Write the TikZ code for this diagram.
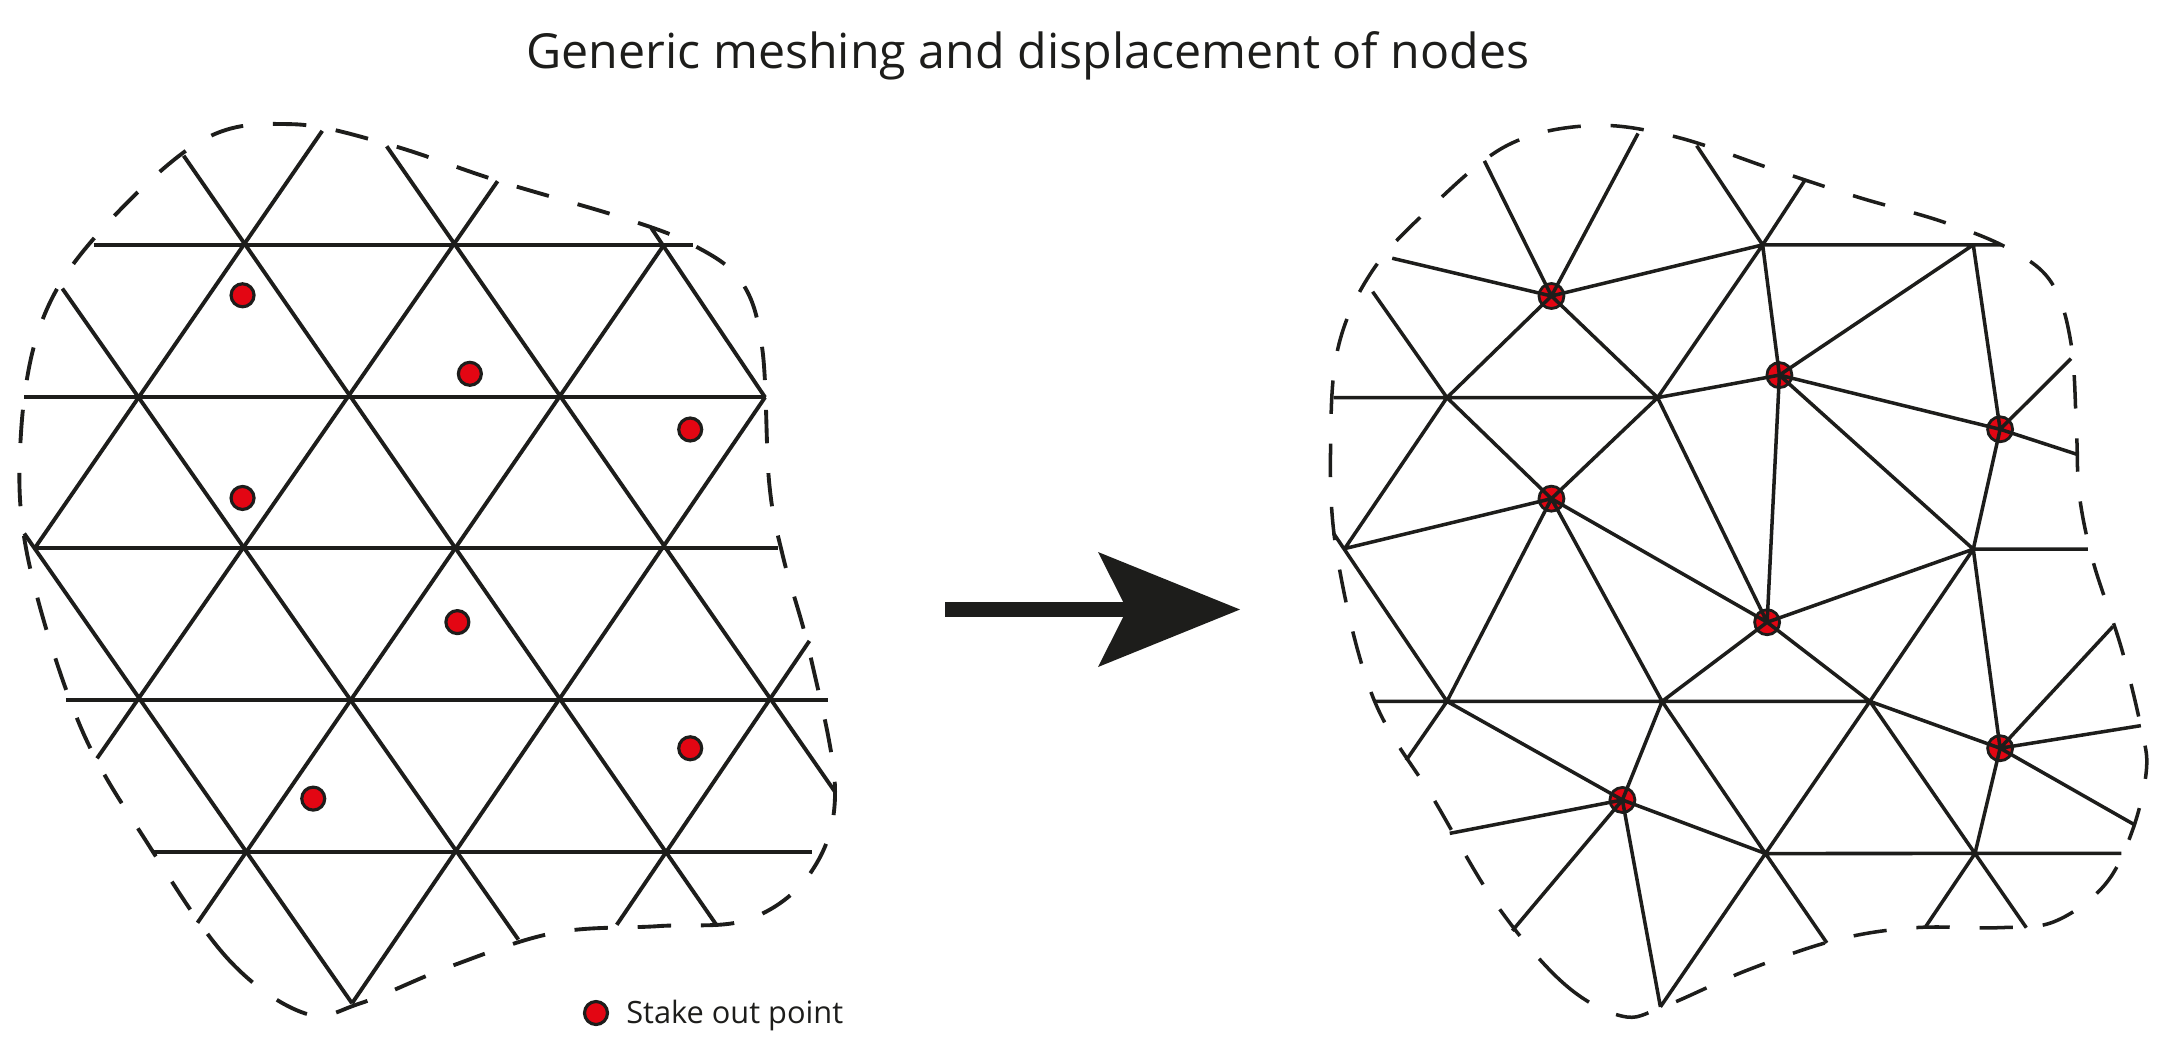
\documentclass[tikz,border=0pt]{standalone}
\usepackage{fontspec}
\setmainfont{Open Sans}
\definecolor{ink}{HTML}{1D1D1B}
\definecolor{stake}{HTML}{E30613}
\begin{document}
\begin{tikzpicture}[x=0.02cm,y=-0.02cm,
  mesh/.style={draw=ink,line width=2.2pt},
  bound/.style={draw=ink,line width=2.2pt,dash pattern=on 19pt off 17pt},
  dot/.style={circle,fill=stake,draw=ink,line width=1.8pt,minimum size=0.46cm,inner sep=0pt},
  sdot/.style={circle,fill=stake,draw=ink,line width=1.6pt,minimum size=0.5cm,inner sep=0pt}]
\useasboundingbox (0,0) rectangle (2176,1052);
\node[font=\fontsize{27.5}{33}\selectfont,text=ink] (title) at (1028,56) {Generic meshing and displacement of nodes};
% left mesh
\begin{scope}[xscale=0.693,yscale=0.6711]
\draw[mesh] (135,365)--(1000,365) (35,592)--(1105,592) (50,817)--(1122,817) (95,1043)--(1195,1043) (220,1270)--(1172,1270);
\draw[mesh] (265,232)--(1035,1380) (558,218)--(1205,1180) (940,340)--(1104,592) (90,430)--(748,1400) (35,795)--(508,1495);
\draw[mesh] (465,195)--(50,817) (718,270)--(140,1130) (958,365)--(285,1375) (1104,592)--(508,1495) (1168,955)--(890,1378);
\draw[bound] plot[smooth cycle,tension=0.6] coordinates {(440,1510) (330,1430) (215,1260) (115,1080) (40,830) (30,650) (60,480) (140,350) (290,210) (420,185) (560,215) (720,270) (900,325) (1000,365) (1070,420) (1100,520) (1110,720) (1130,830) (1170,980) (1205,1180) (1170,1300) (1080,1370) (950,1380) (800,1390) (650,1440) (520,1495)};
\foreach \p [count=\i] in {(350,440),(678,557),(996,640),(350,742),(660,927),(996,1115),(452,1190)}
  \node[dot] (l\i) at \p {};
\end{scope}
% legend
\node[dot] (leg) at (596,1013) {};
\node[anchor=west,font=\fontsize{17.5}{21}\selectfont,text=ink,inner sep=0pt] (legt) at (626,1015) {Stake out point};
% arrow
\fill[ink] (945,602) rectangle (1130,617);
\fill[ink] (1098,552) -- (1240,609.5) -- (1098,667) -- (1127,609.5) -- cycle;
% right mesh
\begin{scope}[shift={(1300,100)},xscale=0.5587,yscale=0.6086]
\coordinate (A) at (828,238); \coordinate (B) at (1205,238); \coordinate (C) at (263,489);
\coordinate (D) at (640,489); \coordinate (E) at (80,737); \coordinate (F) at (1205,738);
\coordinate (G) at (263,988); \coordinate (H) at (648,988); \coordinate (I) at (1020,988);
\coordinate (J) at (833,1238); \coordinate (K) at (1208,1238); \coordinate (L) at (645,1490);
\coordinate (R1) at (450,322); \coordinate (R2) at (858,452); \coordinate (R3) at (1253,541);
\coordinate (R4) at (450,655); \coordinate (R5) at (836,858); \coordinate (R6) at (1253,1065);
\coordinate (R7) at (577,1150);
\foreach \r in {R1,R2,R3,R4,R5,R6,R7} \node[sdot] (n\r) at (\r) {};
\draw[mesh,line width=2pt]
 (A)--(1255,238) (60,489)--(D)--(R2) (E)--(R4) (F)--(1410,738) (135,988)--(I)--(R6) (J)--(1470,1238)
 (330,100)--(R1) (605,55)--(R1) (165,260)--(R1) (R1)--(A) (R1)--(C) (R1)--(D)
 (710,75)--(A)--(905,130) (A)--(D) (A)--(R2)
 (B)--(R2) (B)--(R3) (R2)--(R3) (R2)--(R5) (R2)--(F)
 (R3)--(1380,425) (R3)--(1390,582) (R3)--(F)
 (130,315)--(C)--(E) (C)--(R4) (D)--(R4) (D)--(R5)
 (R4)--(R5) (R4)--(G) (R4)--(H) (60,712)--(G)
 (F)--(R5) (F)--(I) (F)--(R6) (R5)--(H) (R5)--(I)
 (G)--(190,1085) (G)--(R7) (H)--(R7) (H)--(J) (I)--(J) (I)--(K)
 (R6)--(1455,865) (R6)--(1505,1028) (R6)--(1492,1190) (R6)--(K)
 (R7)--(268,1205) (R7)--(380,1365) (R7)--(L) (R7)--(J)
 (J)--(L) (J)--(943,1385) (K)--(1120,1358) (K)--(1300,1360);
\draw[bound,line width=2pt] plot[smooth cycle,tension=0.6] coordinates {(575,1505) (470,1450) (350,1320) (240,1150) (130,980) (65,740) (55,550) (70,400) (130,280) (230,180) (370,75) (520,42) (670,60) (850,115) (1000,160) (1150,200) (1270,245) (1345,300) (1380,400) (1390,550) (1395,650) (1420,760) (1470,900) (1505,1030) (1515,1100) (1490,1200) (1440,1290) (1350,1350) (1250,1360) (1100,1360) (960,1380) (800,1430) (650,1490)};
\end{scope}
\end{tikzpicture}
\end{document}
